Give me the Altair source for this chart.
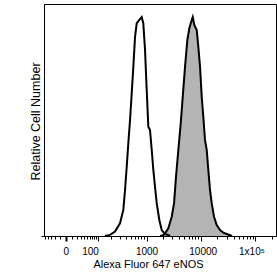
import altair as alt
import pandas as pd

# Fluorescence (Alexa Fluor 647) values and relative counts (% of peak)
white_x = [146, 189, 241, 305, 356, 385, 416, 447, 483, 521, 560, 604, 651, 730, 811,
           869, 937, 1008, 1081, 1163, 1252, 1342, 1442, 1553, 1736, 1923, 2214, 2548, 2750]
white_y = [0, 0.5, 2.0, 5.8, 11.9, 21.0, 31.7, 42.3, 53.0, 65.2, 77.3, 91.0, 97.2, 98.7, 100,
           97.2, 85.0, 66.7, 49.9, 48.4, 39.3, 30.2, 22.5, 14.9, 7.3, 2.7, 0.9, 0.4, 0]

grey_x = [1788, 2034, 2214, 2548, 2944, 3248, 3532, 3895, 4312, 4694, 5170, 5698, 6202, 6860,
          7154, 7654, 8470, 9058, 9737, 10450, 11180, 12000, 12900, 13800, 14830, 15930,
          17540, 19640, 22580, 25930, 29910, 37350]
grey_y = [0, 0.3, 1.2, 3.5, 8.8, 14.9, 27.1, 39.3, 51.5, 63.6, 77.3, 89.5, 94.9, 98.7,
          100, 96.4, 94.1, 86.5, 77.3, 63.6, 54.5, 43.9, 39.3, 30.2, 21.0, 14.9,
          8.8, 5.0, 2.7, 1.5, 0.9, 0]

major_ticks = [0, 100, 1000, 10000, 100000]
minor_ticks = [-50, -40, -30, -20, -10, 10, 20, 30, 40, 50, 60, 70, 80, 90,
               200, 300, 400, 500, 600, 700, 800, 900,
               2000, 3000, 4000, 5000, 6000, 7000, 8000, 9000,
               20000, 30000, 40000, 50000, 60000, 70000, 80000, 90000, 200000]

white = pd.DataFrame({"x": white_x, "y": white_y})
grey = pd.DataFrame({"x": grey_x, "y": grey_y})

xscale = alt.Scale(type="symlog", constant=35, domain=[-52.4, 236700], nice=False, zero=False)
yscale = alt.Scale(domain=[0, 106], nice=False)

major_test = "indexof([0,100,1000,10000,100000], datum.value) >= 0"
xaxis = alt.Axis(
    values=sorted(major_ticks + minor_ticks),
    labelExpr=("datum.value == 0 ? '0' : datum.value == 100 ? '100' : datum.value == 1000 ? '1000'"
               " : datum.value == 10000 ? '10000' : datum.value == 100000 ? '1x10\u2075' : ''"),
    labelOffset={"condition": [{"test": "datum.value == 100", "value": -8},
                               {"test": "datum.value == 100000", "value": -4},
                               {"test": "datum.value == 10000", "value": 2}], "value": 0},
    tickSize={"condition": {"test": major_test, "value": 5}, "value": 3},
    tickWidth={"condition": {"test": "datum.value == 0", "value": 2}, "value": 1},
    tickColor="black", domainColor="black", labelColor="black", titleColor="black",
    labelFont="Liberation Sans", labelFontSize=10, labelPadding=5, labelFlush=False,
    labelOverlap=False, labelBound=False,
    title="Alexa Fluor 647 eNOS", titleFont="Liberation Sans", titleFontSize=11,
    titleFontWeight="normal", titleBaseline="alphabetic", titleY=31,
    titleX=104, titleAlign="center", grid=False,
)
yaxis = alt.Axis(
    values=[0], labels=False, tickSize=3, tickColor="black", domainColor="black",
    title="Relative Cell Number", titleFont="Liberation Sans", titleFontSize=12.5,
    titleFontWeight="normal", titleColor="black", titleBaseline="alphabetic",
    titleX=-5, titleY=117, titleAngle=-90, titleAlign="center", grid=False,
)

x_enc = alt.X("x:Q", scale=xscale, axis=xaxis)
y_enc = alt.Y("y:Q", scale=yscale, axis=yaxis, stack=None)

grey_area = alt.Chart(grey).mark_area(fill="#b4b4b4", opacity=1, interpolate="linear").encode(
    x=x_enc, y=y_enc, y2=alt.datum(0))
grey_line = alt.Chart(grey).mark_line(color="black", strokeWidth=2, interpolate="linear").encode(
    x=x_enc, y=y_enc)
white_line = alt.Chart(white).mark_line(color="black", strokeWidth=2, interpolate="linear").encode(
    x=x_enc, y=y_enc)

chart = alt.layer(grey_area, white_line, grey_line).properties(
    width=232, height=232,
    autosize=alt.AutoSizeParams(type="none"),
    padding={"left": 44, "top": 4, "right": 1, "bottom": 38},
    background="white",
).configure_view(stroke="black", strokeWidth=1)

chart.save("out.html", embed_options={"renderer": "svg", "actions": False})
